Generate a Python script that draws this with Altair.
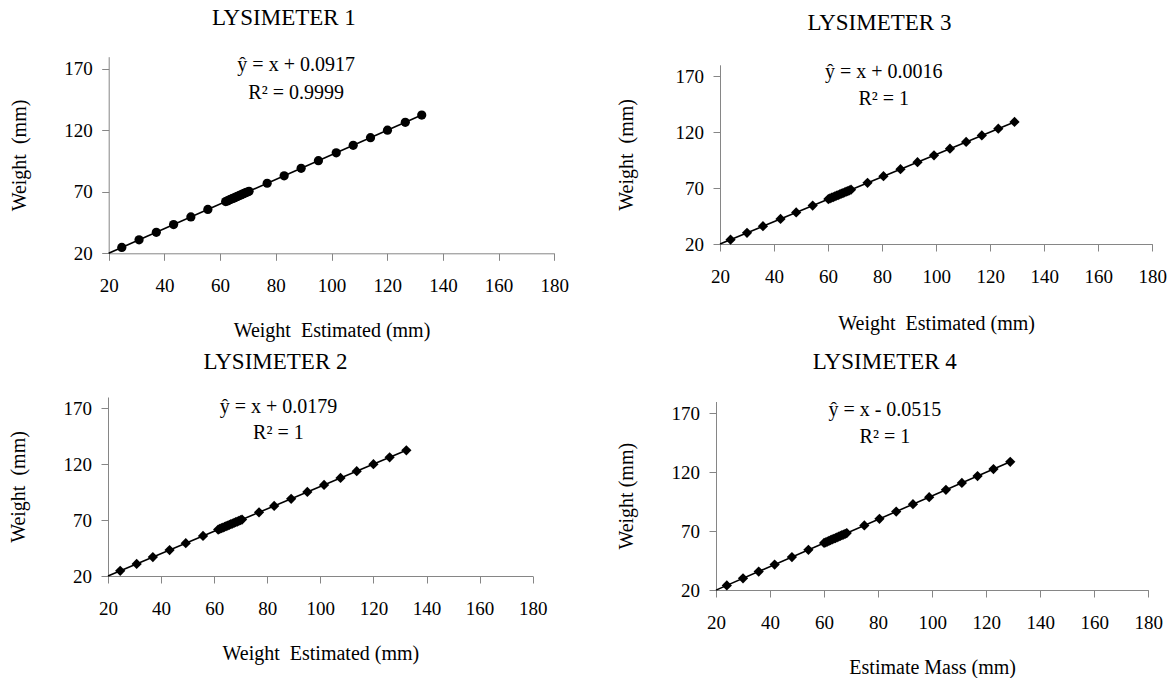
import altair as alt
import pandas as pd

FONT = "Liberation Serif"
W, H = 1176, 678

# ---------------- data ----------------
x_ticks = [20, 40, 60, 80, 100, 120, 140, 160, 180]
y_ticks = [20, 70, 120, 170]

lys1_est = [24.7, 30.9, 37.1, 43.3, 49.5, 55.6, 62.0, 62.6, 63.2, 63.8, 64.4, 65.0, 65.6, 66.2, 66.8,
            67.4, 68.0, 68.6, 69.2, 69.8, 70.4, 76.9, 83.0, 89.1, 95.3, 101.7, 107.8, 114.0, 120.1, 126.5, 132.4]
lys1_obs = [24.8, 31.0, 37.1, 43.4, 49.6, 55.7, 62.1, 62.6, 63.3, 63.9, 64.5, 65.1, 65.7, 66.3, 66.9,
            67.5, 68.1, 68.7, 69.3, 69.9, 70.5, 77.0, 83.1, 89.2, 95.4, 101.8, 107.9, 114.1, 120.2, 126.6, 132.5]

lys2_est = [24.6, 30.8, 36.9, 43.2, 49.3, 55.8, 61.5, 62.1, 62.7, 63.3, 63.9, 64.5, 65.1, 65.7, 66.3,
            66.9, 67.5, 68.1, 68.7, 69.3, 69.9, 70.5, 76.9, 82.6, 89.0, 95.1, 101.4, 107.6, 113.7, 120.0, 126.1, 132.4]
lys2_obs = [24.6, 30.8, 36.9, 43.2, 49.3, 55.8, 61.5, 62.1, 62.7, 63.3, 63.9, 64.5, 65.1, 65.7, 66.3,
            66.9, 67.5, 68.1, 68.7, 69.3, 69.9, 70.5, 76.9, 82.6, 89.0, 95.1, 101.4, 107.6, 113.7, 120.0, 126.1, 132.4]

lys3_est = [23.9, 30.0, 35.9, 42.4, 48.2, 54.3, 60.1, 60.7, 61.3, 61.9, 62.5, 63.1, 63.7, 64.3, 64.9,
            65.5, 66.1, 66.7, 67.3, 67.9, 68.5, 74.6, 80.5, 86.8, 93.1, 99.2, 105.1, 111.1, 116.9, 123.0, 129.0]
lys3_obs = [23.9, 30.0, 35.9, 42.4, 48.2, 54.3, 60.1, 60.7, 61.3, 61.9, 62.5, 63.1, 63.7, 64.3, 64.9,
            65.5, 66.1, 66.7, 67.3, 67.9, 68.5, 74.6, 80.5, 86.8, 93.1, 99.2, 105.1, 111.1, 116.9, 123.0, 129.0]

lys4_est = [24.0, 30.0, 35.8, 41.7, 48.1, 54.2, 60.0, 60.6, 61.2, 61.8, 62.4, 63.0, 63.6, 64.2, 64.8,
            65.4, 66.0, 66.6, 67.2, 67.8, 68.4, 74.9, 80.5, 86.7, 92.9, 98.9, 105.1, 111.0, 116.8, 122.7, 128.9]
lys4_obs = [23.9, 29.9, 35.7, 41.6, 48.0, 54.1, 59.9, 60.5, 61.1, 61.7, 62.3, 62.9, 63.5, 64.1, 64.7,
            65.3, 65.9, 66.5, 67.1, 67.7, 68.3, 74.8, 80.4, 86.6, 92.8, 98.8, 105.0, 110.9, 116.7, 122.6, 128.8]

titles = ["LYSIMETER 1", "LYSIMETER 2", "LYSIMETER 3", "LYSIMETER 4"]
equations = ["ŷ = x + 0.0917", "ŷ = x + 0.0179", "ŷ = x + 0.0016", "ŷ = x - 0.0515"]
r2_texts = ["R² = 0.9999", "R² = 1", "R² = 1", "R² = 1"]
x_titles = ["Weight\u00a0 Estimated (mm)", "Weight\u00a0 Estimated (mm)",
            "Weight\u00a0 Estimated (mm)", "Estimate Mass (mm)"]
y_titles = ["Weight\u00a0 (mm)", "Weight\u00a0 (mm)", "Weight\u00a0 (mm)", "Weight (mm)"]

# annotation anchors in data units: (x, equation y, R² y, title x, title y)
annot = [(87.3, 173.2, 150.8, 82.9, 211.7),
         (84.2, 170.8, 147.5, 83.1, 211.6),
         (80.6, 173.8, 149.2, 79.0, 217.0),
         (82.5, 172.8, 150.2, 82.5, 213.9)]

# panel frames in page pixels: (left, right, bottom, top)
frames = [(108.7, 554.3, 253.3, 56.7),
          (108.0, 532.7, 576.0, 397.0),
          (720.0, 1152.3, 244.0, 64.8),
          (716.0, 1148.3, 590.0, 401.5)]
# axis title paddings (x, y) and marker style
title_pads = [(25, 34.5), (25, 34.5), (27, 39), (25.5, 35)]
markers = [("circle", 85), ("diamond", 105), ("diamond", 105), ("diamond", 105)]

series = [(lys1_est, lys1_obs), (lys2_est, lys2_obs), (lys3_est, lys3_obs), (lys4_est, lys4_obs)]

layers = []
for i in range(4):
    xs, ys = series[i]
    left, right, bottom, top = frames[i]
    xsc = alt.Scale(domain=[20, 180], range=[left, right], nice=False, zero=False)
    ysc = alt.Scale(domain=[20, 180], range=[bottom, top], nice=False, zero=False)
    X_ax = alt.X("x:Q", scale=xsc, axis=alt.Axis(
        values=x_ticks, title=x_titles[i], orient="bottom", offset=bottom - H,
        titlePadding=title_pads[i][0]))
    Y_ax = alt.Y("y:Q", scale=ysc, axis=alt.Axis(
        values=y_ticks, title=y_titles[i], orient="left", offset=-left,
        titlePadding=title_pads[i][1]))
    X_no = alt.X("x:Q", scale=xsc, axis=None)
    Y_no = alt.Y("y:Q", scale=ysc, axis=None)

    df = pd.DataFrame({"x": xs, "y": ys})
    base = alt.Chart(df)
    line = base.transform_regression("x", "y", extent=[20, max(xs)]).mark_line(
        color="black", strokeWidth=1.6).encode(x=X_no, y=Y_no)
    shape, msize = markers[i]
    pts = base.mark_point(shape=shape, filled=True, size=msize, color="black",
                          opacity=1).encode(x=X_ax, y=Y_ax)
    a = annot[i]
    ann_df = pd.DataFrame({"x": [a[0], a[0]], "y": [a[1], a[2]], "t": [equations[i], r2_texts[i]]})
    ann = alt.Chart(ann_df).mark_text(font=FONT, fontSize=20, color="black").encode(
        x=X_no, y=Y_no, text="t:N")
    ttl_df = pd.DataFrame({"x": [a[3]], "y": [a[4]], "t": [titles[i]]})
    ttl = alt.Chart(ttl_df).mark_text(font=FONT, fontSize=23, color="black").encode(
        x=X_no, y=Y_no, text="t:N")
    layers += [line, pts, ann, ttl]

chart = alt.layer(*layers).resolve_scale(x="independent", y="independent").resolve_axis(
    x="independent", y="independent"
).properties(
    width=W, height=H, padding=0, autosize=alt.AutoSizeParams(type="none")
).configure_view(strokeWidth=0).configure_axis(
    domainColor="#868686", tickColor="#868686", tickSize=7, domainWidth=1, tickWidth=1,
    labelFont=FONT, labelFontSize=19, labelColor="black", labelFlush=False, labelOverlap=False,
    titleFont=FONT, titleFontSize=20, titleFontWeight="normal", titleColor="black", grid=False
).configure_axisX(labelPadding=16).configure_axisY(labelPadding=9.5)

chart.save("out.html", embed_options={"renderer": "svg", "actions": False})
